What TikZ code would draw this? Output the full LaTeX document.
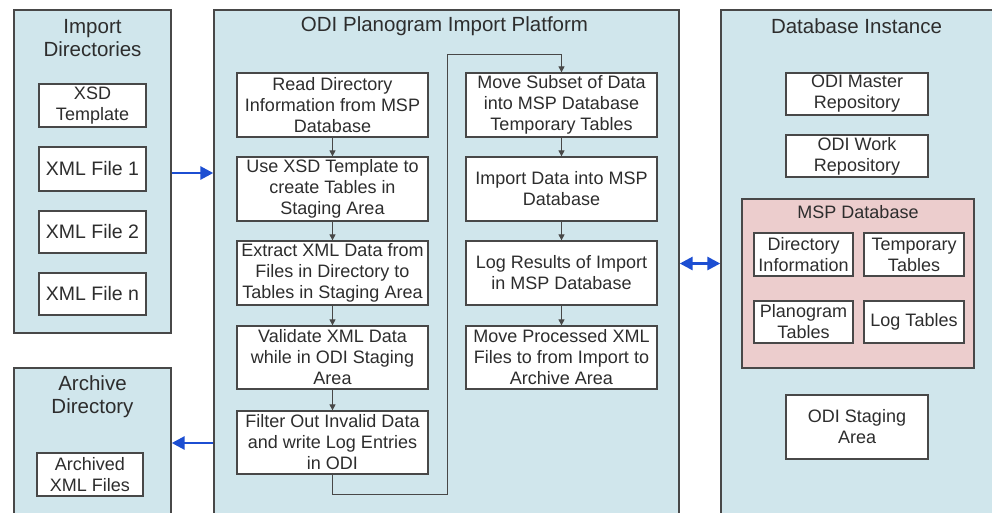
\documentclass[tikz,border=0pt]{standalone}
\usepackage{fontspec}
\setmainfont{Liberation Sans}
\usetikzlibrary{arrows.meta}
\definecolor{panel}{RGB}{208,230,236}
\definecolor{pinkfill}{RGB}{236,205,205}
\definecolor{edge}{RGB}{72,72,72}
\definecolor{txt}{RGB}{45,45,45}
\definecolor{bluearrow}{RGB}{28,78,210}
\begin{document}
\begin{tikzpicture}[x=1pt,y=-1pt,
  panelbox/.style={draw=edge, line width=1.4pt, fill=panel, inner sep=0pt},
  mspbox/.style={draw=edge, line width=1.4pt, fill=pinkfill, inner sep=0pt},
  titletext/.style={text=txt, align=center, inner sep=0pt, font=\fontsize{20.5}{23}\selectfont},
  subtitle/.style={text=txt, align=center, inner sep=0pt, font=\fontsize{18}{21}\selectfont},
  stepbox/.style={draw=edge, line width=1.3pt, fill=white, inner sep=0pt, align=center,
     text=txt, font=\fontsize{18}{21}\selectfont},
  bigtext/.style={font=\fontsize{19.5}{22}\selectfont},
  flow/.style={draw=edge, line width=1pt, -{Triangle[length=6pt,width=6pt]}},
  link/.style={draw=bluearrow, line width=2.8pt, -{Triangle[length=13pt,width=13pt]}},
  blink/.style={draw=bluearrow, line width=2.8pt, {Triangle[length=13pt,width=13pt]}-{Triangle[length=13pt,width=13pt]}}]
\useasboundingbox (0,0) rectangle (992,512);
\clip (0,0) rectangle (992,512);
\fill[white] (0,0) rectangle (992,512);

% containers
\node[panelbox, minimum width=157pt, minimum height=323pt] (imp) at (92.5,171.5) {};
\node[panelbox, minimum width=157pt, minimum height=170pt] (arch) at (92.5,453) {};
\node[panelbox, minimum width=465pt, minimum height=530pt] (plat) at (446.5,275) {};
\node[panelbox, minimum width=290pt, minimum height=530pt] (dbi) at (866,275) {};
\node[mspbox, minimum width=232pt, minimum height=169pt] (msp) at (858,283.5) {};

% titles
\node[titletext] (impt) at (92.5,38.5) {Import\\Directories};
\node[titletext] (archt) at (92.5,396.5) {Archive\\Directory};
\node[titletext] (platt) at (444.5,26) {ODI Planogram Import Platform};
\node[titletext] (dbit) at (856.5,26) {Database Instance};
\node[subtitle] (mspt) at (858,212) {MSP Database};

% import directory boxes
\node[stepbox, minimum width=107pt, minimum height=43pt] (xsd) at (92.5,105.5) {XSD\\Template};
\node[stepbox, bigtext, minimum width=107pt, minimum height=44pt] (x1) at (92.5,169) {XML File 1};
\node[stepbox, bigtext, minimum width=107pt, minimum height=42pt] (x2) at (92.5,232) {XML File 2};
\node[stepbox, bigtext, minimum width=107pt, minimum height=42pt] (xn) at (92.5,294) {XML File n};
\node[stepbox, minimum width=106pt, minimum height=43pt] (archived) at (90,474.5) {Archived\\XML Files};

% platform steps, left column
\node[stepbox, minimum width=191pt, minimum height=64pt] (s1) at (332.5,105) {Read Directory\\Information from MSP\\Database};
\node[stepbox, minimum width=191pt, minimum height=64pt] (s2) at (332.5,189) {Use XSD Template to\\create Tables in\\Staging Area};
\node[stepbox, minimum width=191pt, minimum height=64pt] (s3) at (332.5,273) {Extract XML Data from\\Files in Directory to\\Tables in Staging Area};
\node[stepbox, minimum width=191pt, minimum height=63pt] (s4) at (332.5,357.5) {Validate XML Data\\while in ODI Staging\\Area};
\node[stepbox, minimum width=191pt, minimum height=63pt] (s5) at (332.5,442.5) {Filter Out Invalid Data\\and write Log Entries\\in ODI};

% platform steps, right column
\node[stepbox, minimum width=191pt, minimum height=64pt] (s6) at (561.5,105) {Move Subset of Data\\into MSP Database\\Temporary Tables};
\node[stepbox, minimum width=191pt, minimum height=64pt] (s7) at (561.5,189) {Import Data into MSP\\Database};
\node[stepbox, minimum width=191pt, minimum height=64pt] (s8) at (561.5,273) {Log Results of Import\\in MSP Database};
\node[stepbox, minimum width=191pt, minimum height=63pt] (s9) at (561.5,357.5) {Move Processed XML\\Files to from Import to\\Archive Area};

% database instance boxes
\node[stepbox, minimum width=142pt, minimum height=42pt] (master) at (857,94) {ODI Master\\Repository};
\node[stepbox, minimum width=142pt, minimum height=42pt] (work) at (857,156) {ODI Work\\Repository};
\node[stepbox, minimum width=99pt, minimum height=43pt] (dirinfo) at (803.5,254.5) {Directory\\Information};
\node[stepbox, minimum width=100pt, minimum height=43pt] (temp) at (914,254.5) {Temporary\\Tables};
\node[stepbox, minimum width=99pt, minimum height=42pt] (plano) at (803.5,322) {Planogram\\Tables};
\node[stepbox, minimum width=100pt, minimum height=42pt] (logt) at (914,322) {Log Tables};
\node[stepbox, minimum width=142pt, minimum height=64pt] (staging) at (857,427) {ODI Staging\\Area};

% flow connectors
\draw[flow] (s1) -- (s2);
\draw[flow] (s2) -- (s3);
\draw[flow] (s3) -- (s4);
\draw[flow] (s4) -- (s5);
\coordinate (turnbot) at (447,494);
\coordinate (turntop) at (447,54);
\draw[flow] (s5.south) |- (turnbot) -- (turntop) -| (s6.north);
\draw[flow] (s6) -- (s7);
\draw[flow] (s7) -- (s8);
\draw[flow] (s8) -- (s9);

% blue links between containers
\coordinate (ya) at (0,173);
\coordinate (yb) at (0,443);
\coordinate (yc) at (0,263.5);
\draw[link] (imp.east |- ya) -- (plat.west |- ya);
\draw[link] (plat.west |- yb) -- (arch.east |- yb);
\draw[blink] (plat.east |- yc) -- (dbi.west |- yc);
\end{tikzpicture}
\end{document}
